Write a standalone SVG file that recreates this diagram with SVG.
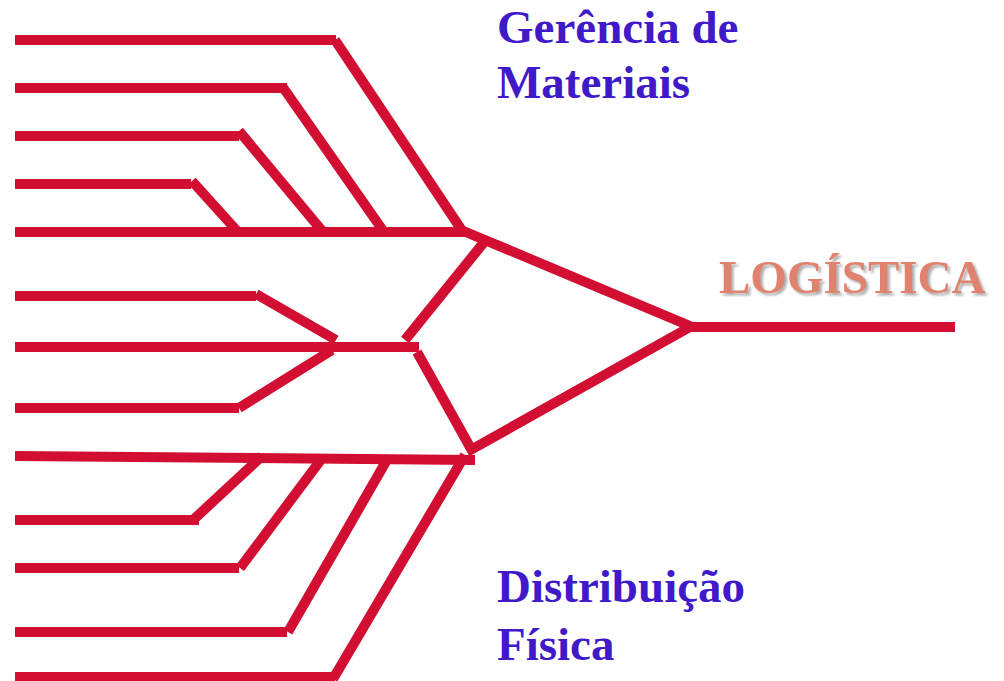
<svg xmlns="http://www.w3.org/2000/svg" width="1004" height="681" viewBox="0 0 1004 681">
<defs>
<style>
.c line{stroke:#D20F32;stroke-width:10;stroke-linecap:butt;fill:none}
.lbl{font-family:"Liberation Serif","Times New Roman",serif;font-weight:bold;font-size:47px;fill:#4019C9}
.logo{font-family:"Liberation Serif","Times New Roman",serif;font-weight:bold;font-size:47px}
</style>
<filter id="sh" x="-10%" y="-30%" width="120%" height="160%">
<feDropShadow dx="2.5" dy="2.5" stdDeviation="1.2" flood-color="#999" flood-opacity="0.8"/>
</filter>
</defs>
<rect width="1004" height="681" fill="#fff"/>
<g id="connectors" class="c">
<!-- top group -->
<line x1="15" y1="40" x2="336" y2="40"/>
<line x1="335" y1="40" x2="463" y2="232"/>
<line x1="15" y1="88" x2="287" y2="88"/>
<line x1="282" y1="86" x2="384" y2="232"/>
<line x1="15" y1="136" x2="239" y2="136"/>
<line x1="239" y1="131" x2="323" y2="232"/>
<line x1="15" y1="184" x2="191" y2="184"/>
<line x1="192" y1="181" x2="238" y2="232"/>
<line x1="15" y1="232" x2="465" y2="232"/>
<line x1="461" y1="230" x2="690" y2="326"/>
<line x1="485" y1="241" x2="405" y2="340"/>
<!-- middle group -->
<line x1="15" y1="296" x2="256" y2="296"/>
<line x1="256" y1="294" x2="336" y2="340"/>
<line x1="15" y1="347" x2="419" y2="347"/>
<line x1="15" y1="408" x2="239" y2="408"/>
<line x1="239" y1="408" x2="332" y2="350"/>
<line x1="417" y1="352" x2="470" y2="447"/>
<!-- bottom group -->
<line x1="15" y1="456" x2="475" y2="460"/>
<line x1="15" y1="520" x2="199" y2="520"/>
<line x1="192" y1="521" x2="262" y2="456"/>
<line x1="15" y1="568" x2="239" y2="568"/>
<line x1="240" y1="568" x2="323" y2="457"/>
<line x1="15" y1="632" x2="287" y2="632"/>
<line x1="288" y1="632" x2="388" y2="458"/>
<line x1="15" y1="677" x2="335" y2="677"/>
<line x1="333" y1="679" x2="465" y2="455"/>
<line x1="467" y1="452" x2="690" y2="327"/>
<line x1="686" y1="327" x2="955" y2="327"/>
</g>
<g id="node-gerencia">
<text class="lbl" x="497" y="43">Gerência de</text>
<text class="lbl" x="497" y="98">Materiais</text>
</g>
<g id="node-distribuicao">
<text class="lbl" x="497" y="602">Distribuição</text>
<text class="lbl" x="497" y="660">Física</text>
</g>
<g id="node-logistica">
<text class="logo" x="719" y="293" fill="#E0826E" filter="url(#sh)">LOGÍSTICA</text>
</g>
</svg>
